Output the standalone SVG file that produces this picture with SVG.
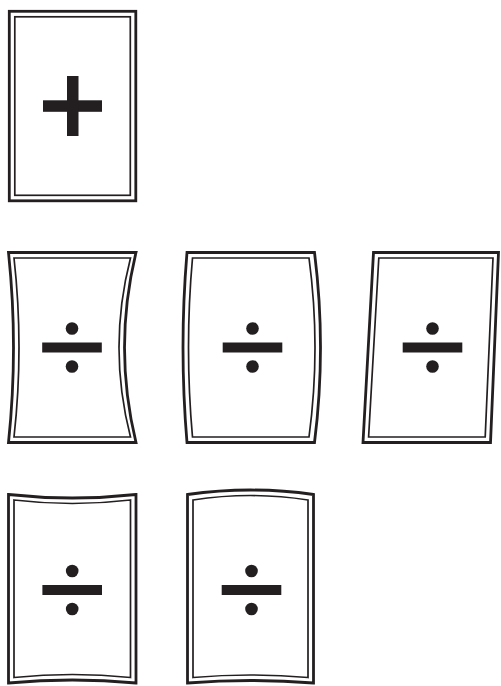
<svg xmlns="http://www.w3.org/2000/svg" width="501" height="686" viewBox="0 0 501 686">
<style>
.o{fill:none;stroke:#231f20;stroke-width:2.8;stroke-linejoin:miter}
.i{fill:none;stroke:#231f20;stroke-width:1.7;stroke-linejoin:miter}
.s{fill:#231f20}
</style>
<defs>
<g id="div">
<rect class="s" x="-29.8" y="-5" width="59.6" height="10"/>
<circle class="s" cx="0" cy="-19" r="6.3"/>
<circle class="s" cx="0" cy="19" r="6.3"/>
</g>
</defs>
<rect width="501" height="686" fill="#fff"/>
<g id="card-plus">
<rect class="o" x="9.3" y="11.3" width="126.5" height="189.5"/>
<rect class="i" x="14.8" y="16.8" width="115.5" height="178.5"/>
<rect class="s" x="43" y="100.3" width="59" height="11.5"/>
<rect class="s" x="67" y="76" width="11.5" height="60"/>
</g>
<g id="card-pinched-sides">
<path class="o" d="M8.5,252.5 H136 Q113,347.5 136,442.5 H8.5 Q18.5,347.5 8.5,252.5 Z"/>
<path class="i" d="M14,258 H130.5 Q107.5,347.5 130.5,437 H14 Q24,347.5 14,258 Z"/>
<use href="#div" x="72" y="347.5"/>
</g>
<g id="card-bulged-sides">
<path class="o" d="M187,252.5 H314.5 Q326.5,347.5 314.5,442.5 H187 Q179,347.5 187,252.5 Z"/>
<path class="i" d="M192.5,258 H309 Q321,347.5 309,437 H192.5 Q184.5,347.5 192.5,258 Z"/>
<use href="#div" x="252.5" y="347.5"/>
</g>
<g id="card-slanted">
<path class="o" d="M373.5,252.5 H498.5 L490.5,442.5 H363 Z"/>
<path class="i" d="M378.8,258 H493 L485.2,437 H368.6 Z"/>
<use href="#div" x="432.5" y="347.5"/>
</g>
<g id="card-pinched-top-bottom">
<path class="o" d="M8.5,494.5 Q72.3,501.5 136,494.5 V683 Q72.3,677 8.5,683 Z"/>
<path class="i" d="M14,500 Q72.3,507 130.5,500 V677.5 Q72.3,671.5 14,677.5 Z"/>
<use href="#div" x="72.2" y="590"/>
</g>
<g id="card-bent">
<path class="o" d="M187.5,494.5 Q250.5,485.5 313.5,494.5 V683 Q250.5,678 187.5,683 Z"/>
<path class="i" d="M193,500 Q250.5,491 308,500 V677.5 Q250.5,672.5 193,677.5 Z"/>
<use href="#div" x="251.5" y="590"/>
</g>
<g id="connectors"/>
</svg>
